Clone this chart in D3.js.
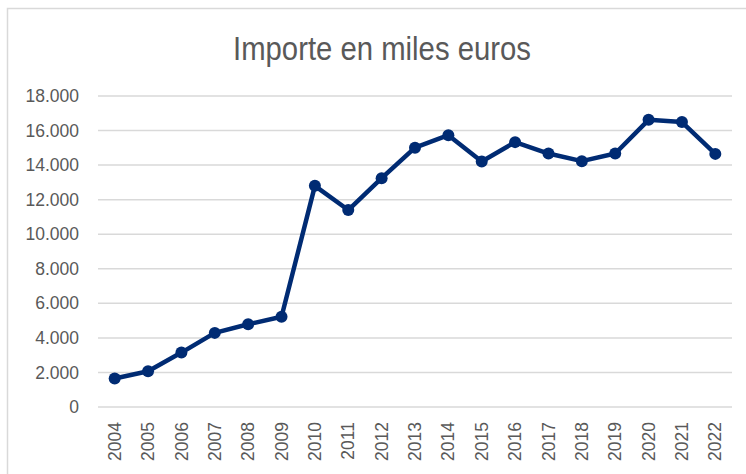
<!DOCTYPE html>
<html>
<head>
<meta charset="utf-8">
<script src="https://cdn.jsdelivr.net/npm/d3@7"></script>
<style>
  body { margin: 0; background: #fff; }
</style>
</head>
<body>
<script>
let width = 746;
let height = 474;

// datos
let years = ["2004", "2005", "2006", "2007", "2008", "2009", "2010", "2011", "2012", "2013",
  "2014", "2015", "2016", "2017", "2018", "2019", "2020", "2021", "2022"];
let importe = [1650, 2070, 3150, 4290, 4790, 5220, 12800, 11400, 13240, 15010,
  15730, 14210, 15330, 14670, 14230, 14670, 16620, 16490, 14650];
let yTicks = [0, 2000, 4000, 6000, 8000, 10000, 12000, 14000, 16000, 18000];
let title = "Importe en miles euros";

let margin = { top: 96, right: 14, bottom: 67, left: 98 };

let svg = d3
  .select("body")
  .append("svg")
  .attr("width", width)
  .attr("height", height);

// marco del grafico
svg
  .append("rect")
  .attr("x", 7.5)
  .attr("y", 8.5)
  .attr("width", width)
  .attr("height", height)
  .attr("fill", "none")
  .attr("stroke", "#d9d9d9")
  .attr("stroke-width", 1.5);

// titulo (fuente estrecha)
svg
  .append("text")
  .attr("x", 382)
  .attr("y", 60)
  .attr("text-anchor", "middle")
  .attr("font-family", "Liberation Sans, Arial, sans-serif")
  .attr("font-size", 33)
  .attr("textLength", 298)
  .attr("lengthAdjust", "spacingAndGlyphs")
  .attr("fill", "#595959")
  .text(title);

let x = d3
  .scaleBand()
  .domain(years)
  .range([margin.left, width - margin.right]);

let y = d3
  .scaleLinear()
  .domain([0, 18000])
  .range([height - margin.bottom, margin.top]);

let fmt = (v) => d3.format(",")(v).replace(/,/g, ".");

// lineas de cuadricula
svg
  .append("g")
  .selectAll("line")
  .data(yTicks)
  .enter()
  .append("line")
  .attr("x1", margin.left)
  .attr("x2", width - margin.right)
  .attr("y1", (d) => y(d))
  .attr("y2", (d) => y(d))
  .attr("stroke", "#d9d9d9")
  .attr("stroke-width", 1.5);

let yAxis = svg
  .append("g")
  .attr("transform", `translate(${margin.left},0)`)
  .call(d3.axisLeft(y).tickValues(yTicks).tickFormat(fmt).tickSize(0).tickPadding(19));
yAxis.select(".domain").remove();
yAxis
  .selectAll("text")
  .attr("font-family", "Liberation Sans, Arial, sans-serif")
  .attr("font-size", 17.5)
  .attr("fill", "#595959");

let xAxis = svg
  .append("g")
  .attr("transform", `translate(0,${height - margin.bottom})`)
  .call(d3.axisBottom(x).tickSize(0));
xAxis.select(".domain").remove();
xAxis
  .selectAll("text")
  .attr("font-family", "Liberation Sans, Arial, sans-serif")
  .attr("font-size", 17.5)
  .attr("fill", "#595959")
  .attr("transform", "rotate(-90)")
  .attr("text-anchor", "end")
  .attr("dy", "0.35em")
  .attr("x", -15)
  .attr("y", 0);

let line = d3
  .line()
  .x((d, i) => x(years[i]) + x.bandwidth() / 2)
  .y((d) => y(d));

svg
  .append("path")
  .datum(importe)
  .attr("fill", "none")
  .attr("stroke", "#002b73")
  .attr("stroke-width", 4.5)
  .attr("stroke-linejoin", "round")
  .attr("d", line);

svg
  .append("g")
  .selectAll("circle")
  .data(importe)
  .enter()
  .append("circle")
  .attr("cx", (d, i) => x(years[i]) + x.bandwidth() / 2)
  .attr("cy", (d) => y(d))
  .attr("r", 6)
  .attr("fill", "#002b73");
</script>
</body>
</html>
